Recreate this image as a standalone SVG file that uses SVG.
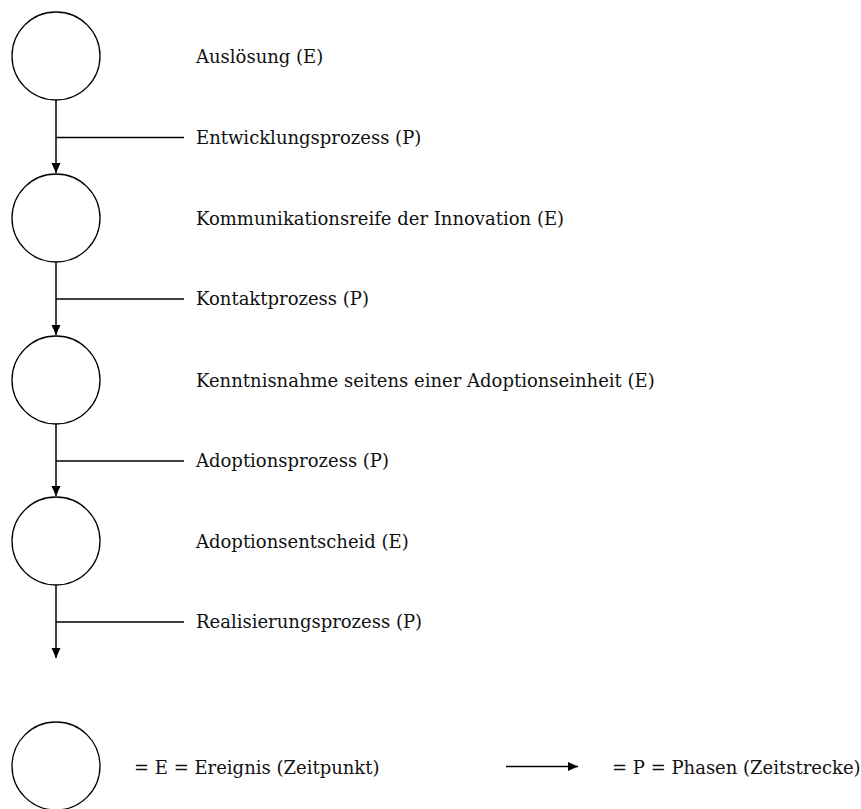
<svg xmlns="http://www.w3.org/2000/svg" width="861" height="809" viewBox="0 0 861 809">
<style>
.n{fill:#fff;stroke:#000;stroke-width:1.3}
.c{fill:none;stroke:#000;stroke-width:1.5}
.t{font-family:"DejaVu Serif","Liberation Serif",serif;font-size:18px;fill:#111}
</style>
<defs>
<marker id="ah" markerUnits="userSpaceOnUse" markerWidth="10" markerHeight="10" viewBox="0 0 10 9" refX="10" refY="4.5" orient="auto">
<path d="M0,0 L10,4.5 L0,9 Z" fill="#000"/>
</marker>
</defs>
<rect width="861" height="809" fill="#fff"/>
<g id="connectors">
<path class="c" d="M56,100 V173" marker-end="url(#ah)"/>
<path class="c" d="M56,137.5 H184"/>
<path class="c" d="M56,262 V335" marker-end="url(#ah)"/>
<path class="c" d="M56,299 H184"/>
<path class="c" d="M56,424 V496" marker-end="url(#ah)"/>
<path class="c" d="M56,461 H184"/>
<path class="c" d="M56,585 V658" marker-end="url(#ah)"/>
<path class="c" d="M56,622 H184"/>
</g>
<g id="e1"><circle class="n" cx="56" cy="56" r="44"/><text class="t" x="196" y="63">Auslösung (E)</text></g>
<g id="p1"><text class="t" x="196" y="143.5">Entwicklungsprozess (P)</text></g>
<g id="e2"><circle class="n" cx="56" cy="218" r="44"/><text class="t" x="196" y="225">Kommunikationsreife der Innovation (E)</text></g>
<g id="p2"><text class="t" x="196" y="305">Kontaktprozess (P)</text></g>
<g id="e3"><circle class="n" cx="56" cy="380" r="44"/><text class="t" x="196" y="387">Kenntnisnahme seitens einer Adoptionseinheit (E)</text></g>
<g id="p3"><text class="t" x="196" y="467">Adoptionsprozess (P)</text></g>
<g id="e4"><circle class="n" cx="56" cy="541" r="44"/><text class="t" x="196" y="548">Adoptionsentscheid (E)</text></g>
<g id="p4"><text class="t" x="196" y="628">Realisierungsprozess (P)</text></g>
<g id="legend">
<circle class="n" cx="56" cy="766" r="44"/>
<text class="t" x="134" y="774">= E = Ereignis (Zeitpunkt)</text>
<path class="c" d="M506,766.5 H578" marker-end="url(#ah)"/>
<text class="t" x="612" y="774">= P = Phasen (Zeitstrecke)</text>
</g>
</svg>
